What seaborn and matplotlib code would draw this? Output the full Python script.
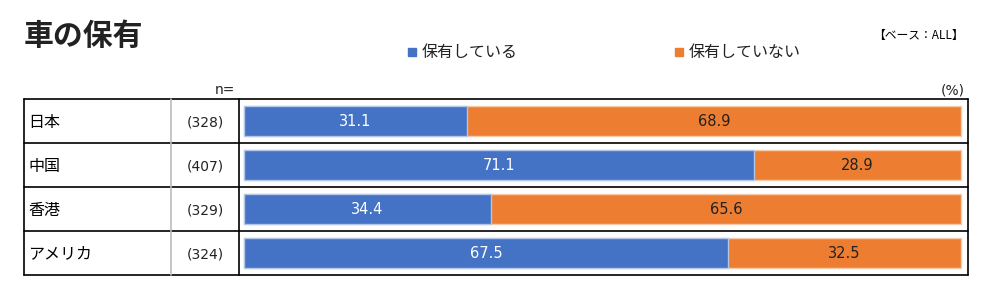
import matplotlib
matplotlib.use("Agg")
import matplotlib.pyplot as plt
import seaborn as sns
import pandas as pd
from matplotlib.lines import Line2D

countries = ["日本", "中国", "香港", "アメリカ"]
n_values = ["(328)", "(407)", "(329)", "(324)"]
own = [31.1, 71.1, 34.4, 67.5]
not_own = [68.9, 28.9, 65.6, 32.5]
series_names = ["保有している", "保有していない"]
title = "車の保有"
base_note = "【ベース：ALL】"

BLUE = "#4472C4"
ORANGE = "#ED7D31"

sns.set_theme(style="white")
plt.rcParams["font.family"] = ["Noto Sans CJK JP", "DejaVu Sans"]
NUMFONT = ["DejaVu Sans"]

W, H = 1001, 300
fig = plt.figure(figsize=(W / 100, H / 100), dpi=100)

# background axes in pixel coordinates for the table frame and text
bg = fig.add_axes([0, 0, 1, 1])
bg.set_xlim(0, W)
bg.set_ylim(H, 0)
bg.axis("off")

df = pd.DataFrame({"country": countries, "own": own, "not_own": not_own})
df["total"] = df["own"] + df["not_own"]

# bar axes
ax = fig.add_axes([239 / W, 1 - 275 / H, 729 / W, 176 / H])
sns.barplot(data=df, y="country", x="total", color=ORANGE, saturation=1,
            width=0.68, edgecolor="#F8CBAD", linewidth=1, ax=ax, orient="h")
sns.barplot(data=df, y="country", x="own", color=BLUE, saturation=1,
            width=0.68, edgecolor="#B4C7E7", linewidth=1, ax=ax, orient="h")
ax.set_xlim(-5 / 717 * 100, 100 + 7 / 717 * 100)
ax.set_ylim(3.5, -0.5)
ax.axis("off")

for i, (a, b) in enumerate(zip(own, not_own)):
    ax.text(a / 2, i + 0.02, f"{a:.1f}", ha="center", va="center", color="white",
            fontsize=10.5, family=NUMFONT)
    ax.text(a + b / 2, i + 0.02, f"{b:.1f}", ha="center", va="center", color="#222222",
            fontsize=10.5, family=NUMFONT)

# table frame
rows_y = [99, 143, 187, 231, 275]
for y in rows_y:
    bg.add_line(Line2D([24, 968], [y, y], color="black", lw=1.2))
bg.add_line(Line2D([24, 24], [99, 275], color="black", lw=1.2))
bg.add_line(Line2D([239, 239], [99, 275], color="black", lw=1.2))
bg.add_line(Line2D([968, 968], [99, 275], color="black", lw=1.2))
bg.add_line(Line2D([171, 171], [99, 275], color="#BBBBBB", lw=1.2))

for i, (c, n) in enumerate(zip(countries, n_values)):
    yc = (rows_y[i] + rows_y[i + 1]) / 2
    bg.text(28, yc + 1, c, ha="left", va="center", fontsize=11.5, color="black")
    bg.text(205, yc + 1, n, ha="center", va="center", fontsize=10, color="#222222",
            family=NUMFONT)

bg.text(235, 90, "n=", ha="right", va="center", fontsize=10, color="#222222", family=NUMFONT)
bg.text(965, 90, "(%)", ha="right", va="center", fontsize=10, color="#222222", family=NUMFONT)

bg.text(24, 36, title, ha="left", va="center", fontsize=21.5, fontweight="bold", color="#222222")
bg.text(964, 35, base_note, ha="right", va="center", fontsize=8.5, color="black")

# legend
for x0, col, name in [(408, BLUE, series_names[0]), (675, ORANGE, series_names[1])]:
    bg.add_patch(plt.Rectangle((x0, 48), 8, 8, color=col))
    bg.text(x0 + 14, 52, name, ha="left", va="center", fontsize=11.5, color="#222222")

fig.savefig("out.png", dpi=100)
